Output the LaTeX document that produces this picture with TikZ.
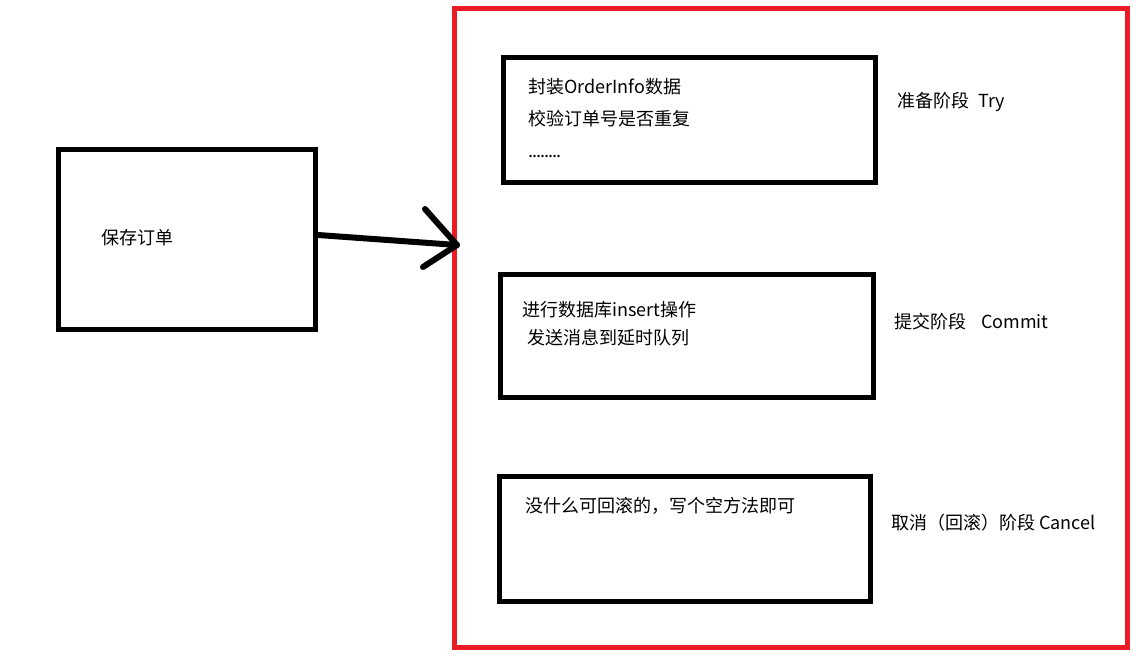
\documentclass[tikz,border=0pt]{standalone}
\usepackage{fontspec}
\setmainfont{Noto Sans CJK SC}
\definecolor{paintred}{RGB}{237,28,36}
\begin{document}
\begin{tikzpicture}[x=1pt,y=-1pt,
  box/.style={draw=black,line width=5pt,rectangle,inner sep=0pt},
  frame/.style={draw=paintred,line width=5pt,rectangle,inner sep=0pt},
  txt/.style={anchor=base west,inner sep=0pt,font=\fontsize{18pt}{22pt}\selectfont},
  arrowline/.style={line width=6pt,line cap=round,line join=round}]
\useasboundingbox (0,0) rectangle (1136,656);
\fill[white] (0,0) rectangle (1136,656);
% red frame
\node[frame,minimum width=673pt,minimum height=638.5pt] (fr) at (791,327.75) {};
% boxes
\node[box,minimum width=257pt,minimum height=180pt] (b0) at (187,239.5) {};
\node[box,minimum width=372pt,minimum height=125pt] (b1) at (689.5,120) {};
\node[box,minimum width=372.5pt,minimum height=123.5pt] (b2) at (686.75,335.75) {};
\node[box,minimum width=371.5pt,minimum height=124.7pt] (b3) at (684.75,539.15) {};
% texts
\node[txt] (t0) at (101.5,244) {保存订单};
\node[txt] (t1a) at (528,93.5) {封装OrderInfo数据};
\node[txt] (t1b) at (528,125) {校验订单号是否重复};
\node[txt] (t1c) at (528,157) {\addfontfeature{LetterSpace=-5.5}........};
\node[txt] (t2a) at (522,316) {进行数据库insert操作};
\node[txt] (t2b) at (527.5,344) {发送消息到延时队列};
\node[txt] (t3) at (525,512.5) {没什么可回滚的，写个空方法即可};
\node[txt] (l1) at (897,107.5) {准备阶段\hspace{9pt}Try};
\node[txt] (l2) at (894,328.5) {提交阶段\hspace{15pt}Commit};
\node[txt] (l3) at (891,529) {取消（回滚）阶段 Cancel};
% arrow
\coordinate (tip) at (457,245);
\coordinate (h1) at (425,209);
\coordinate (h2) at (423,267);
\draw[arrowline] ([yshift=4.5pt]b0.east) -- (tip);
\draw[arrowline] (h1) -- (tip) -- (h2);
\end{tikzpicture}
\end{document}
